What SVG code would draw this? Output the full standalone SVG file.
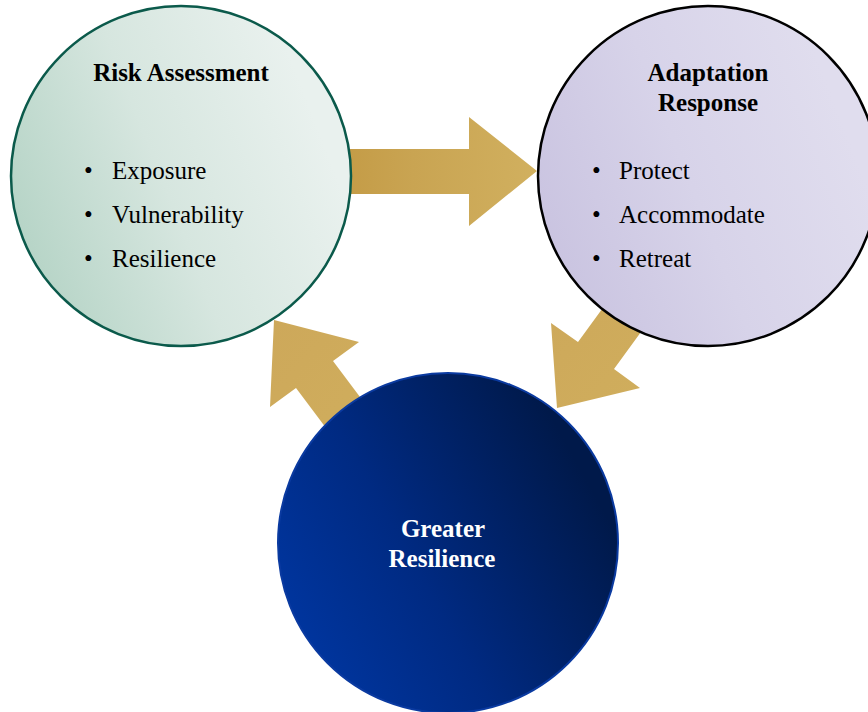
<svg xmlns="http://www.w3.org/2000/svg" width="868" height="712" viewBox="0 0 868 712">
<defs>
<linearGradient id="gGreen" x1="0" y1="0.7" x2="0.9" y2="0.35">
<stop offset="0" stop-color="#b4d3c5"/>
<stop offset="0.5" stop-color="#d6e6df"/>
<stop offset="1" stop-color="#e9f1ee"/>
</linearGradient>
<linearGradient id="gPurple" x1="0" y1="0.7" x2="0.9" y2="0.35">
<stop offset="0" stop-color="#c9c3e0"/>
<stop offset="0.5" stop-color="#d7d3e9"/>
<stop offset="1" stop-color="#e0ddee"/>
</linearGradient>
<linearGradient id="gBlue" x1="0" y1="0.8" x2="0.9" y2="0.3">
<stop offset="0" stop-color="#0037a3"/>
<stop offset="0.45" stop-color="#002a82"/>
<stop offset="1" stop-color="#00194a"/>
</linearGradient>
<linearGradient id="gGold" x1="0" y1="0" x2="1" y2="0">
<stop offset="0" stop-color="#c39a44"/>
<stop offset="0.4" stop-color="#c9a452"/>
<stop offset="1" stop-color="#d1b05f"/>
</linearGradient>
<linearGradient id="gGold2" x1="0" y1="0" x2="1" y2="1">
<stop offset="0" stop-color="#cda85a"/>
<stop offset="1" stop-color="#d0ae5d"/>
</linearGradient>
</defs>
<style>
.title{font-family:"Liberation Serif","Times New Roman",serif;font-weight:bold;font-size:25px;text-anchor:middle;fill:#000}
.item{font-family:"Liberation Serif","Times New Roman",serif;font-size:25px;fill:#000}
.white{fill:#fff}
</style>
<g id="connectors">
<polygon points="330,149 469,149 469,117 537,171 469,226 469,194 330,194" fill="url(#gGold)"/>
<polygon points="613,294 578,342 551,323 557,408 640,388 614,369 649,321" fill="url(#gGold2)"/>
<polygon points="375,417 333,361 359,342 274,320 270,407 296,388 338,444" fill="url(#gGold2)"/>
</g>
<g id="risk-assessment">
<circle cx="181" cy="176" r="170" fill="url(#gGreen)" stroke="#0b5a4b" stroke-width="2.5"/>
<text class="title" x="181" y="81">Risk Assessment</text>
<text class="item" x="84" y="179">•</text><text class="item" x="112" y="179">Exposure</text>
<text class="item" x="84" y="223">•</text><text class="item" x="112" y="223">Vulnerability</text>
<text class="item" x="84" y="267">•</text><text class="item" x="112" y="267">Resilience</text>
</g>
<g id="adaptation-response">
<circle cx="708" cy="176" r="170" fill="url(#gPurple)" stroke="#000" stroke-width="2.5"/>
<text class="title" x="708" y="81">Adaptation</text>
<text class="title" x="708" y="111">Response</text>
<text class="item" x="592" y="179">•</text><text class="item" x="619" y="179">Protect</text>
<text class="item" x="592" y="223">•</text><text class="item" x="619" y="223">Accommodate</text>
<text class="item" x="592" y="267">•</text><text class="item" x="619" y="267">Retreat</text>
</g>
<g id="greater-resilience">
<circle cx="448" cy="543" r="170" fill="url(#gBlue)" stroke="#0a3aa0" stroke-width="2"/>
<text class="title white" x="443" y="537">Greater</text>
<text class="title white" x="442" y="567">Resilience</text>
</g>
</svg>
